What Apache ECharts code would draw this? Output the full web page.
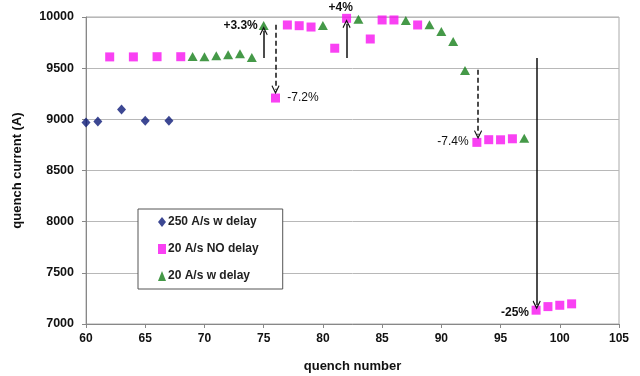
<!DOCTYPE html>
<html>
<head>
<meta charset="utf-8">
<script src="https://cdn.jsdelivr.net/npm/echarts@6/dist/echarts.min.js"></script>
<style>
  html, body { margin: 0; padding: 0; background: #fff; }
  #chart { width: 640px; height: 376px; }
</style>
</head>
<body>
<div id="chart"></div>
<script>
// 数据：[quench number, quench current]
var fast250 = [[60, 8970], [61, 8978], [63, 9095], [65, 8985], [67, 8985]];
var slowNoDelay = [[62, 9610], [64, 9610], [66, 9612], [68, 9612], [76, 9208], [77, 9922], [78, 9915], [79, 9902],
  [81, 9695], [82, 9987], [84, 9785], [85, 9971], [86, 9971], [88, 9922], [93, 8775], [94, 8801], [95, 8800],
  [96, 8810], [98, 7135], [99, 7170], [100, 7183], [101, 7197]];
var slowDelay = [[69, 9615], [70, 9612], [71, 9622], [72, 9630], [73, 9640], [74, 9605], [75, 9918], [80, 9918],
  [83, 9977], [87, 9966], [89, 9925], [90, 9858], [91, 9760], [92, 9478], [97, 8815]];

// 箭头：起点、终点、是否虚线
var arrows = [
  [[75, 9600], [75, 9865], false],
  [[76, 9925], [76, 9290], true],
  [[82, 9600], [82, 9935], false],
  [[93.1, 9485], [93.1, 8850], true],
  [[98.05, 9600], [98.05, 7185], false]
];
// 百分比标注：位置、文字、对齐、粗体、上移
var notes = [
  [[74.5, 9915], "+3.3%", "right", true, 0],
  [[77, 9210], "-7.2%", "left", false, 0],
  [[81.5, 10000], "+4%", "center", true, -9],
  [[92.3, 8780], "-7.4%", "right", false, 0],
  [[97.4, 7107], "-25%", "right", true, 0]
];

var myChart = echarts.init(document.getElementById("chart"));

var arrowHead = "path://M0,0 L5,9 L4,10 L0,3 L-4,10 L-5,9 Z";

var markLines = arrows.map(function (a) {
  return [
    { coord: a[0], symbol: "none" },
    { coord: a[1], symbol: arrowHead, symbolSize: [8, 9],
      lineStyle: { type: a[2] ? [5, 3] : "solid" } }
  ];
});
var markPoints = notes.map(function (n) {
  return {
    coord: n[0],
    symbol: "circle",
    symbolSize: 0,
    label: {
      show: true,
      formatter: n[1],
      position: "inside",
      align: n[2],
      offset: [0, n[4]],
      fontWeight: n[3] ? "bold" : "normal",
      fontSize: 12,
      color: "#111"
    }
  };
});

var font = "Liberation Sans, Arial, sans-serif";

var option = {
  animation: false,
  textStyle: { fontFamily: font },
  grid: {
    left: 86, right: 21, top: 17, bottom: 52,
    outerBoundsMode: "none",
    show: true, borderColor: "#aaa", borderWidth: 1
  },
  legend: {
    orient: "vertical",
    left: 138,
    top: 209,
    padding: [7, 24, 7, 20],
    itemGap: 15,
    itemWidth: 8,
    itemHeight: 10,
    borderColor: "#555",
    borderWidth: 1,
    backgroundColor: "#fff",
    textStyle: { fontSize: 12, fontWeight: "bold", color: "#222", fontFamily: font, padding: [0, 0, 0, -3] },
    data: ["250 A/s w delay", "20 A/s NO delay", "20 A/s w delay"]
  },
  xAxis: {
    type: "value",
    min: 60,
    max: 105,
    interval: 5,
    name: "quench number",
    nameLocation: "middle",
    nameGap: 36,
    nameTextStyle: { fontSize: 13, fontWeight: "bold", color: "#111" },
    axisLine: { lineStyle: { color: "#888" } },
    axisTick: { show: true, length: 4, lineStyle: { color: "#888" } },
    axisLabel: { fontSize: 12, fontWeight: "bold", color: "#111", margin: 9 },
    splitLine: { show: false }
  },
  yAxis: {
    type: "value",
    min: 7000,
    max: 10000,
    interval: 500,
    name: "quench current (A)",
    nameLocation: "middle",
    nameGap: 62,
    nameTextStyle: { fontSize: 13, fontWeight: "bold", color: "#111" },
    axisLine: { show: true, lineStyle: { color: "#888" } },
    axisTick: { show: true, length: 4, lineStyle: { color: "#888" } },
    axisLabel: {
      fontSize: 12.5, fontWeight: "bold", color: "#111", margin: 12,
      formatter: function (v) { return String(v); }
    },
    splitLine: { lineStyle: { color: "#b8b8b8" } }
  },
  series: [
    {
      name: "250 A/s w delay",
      type: "scatter",
      symbol: "diamond",
      symbolSize: [9, 10],
      itemStyle: { color: "#0d1a78" },
      data: fast250
    },
    {
      name: "20 A/s NO delay",
      type: "scatter",
      symbol: "rect",
      symbolSize: 9,
      itemStyle: { color: "#f812f0" },
      data: slowNoDelay
    },
    {
      name: "20 A/s w delay",
      type: "scatter",
      symbol: "triangle",
      symbolSize: [10, 9],
      itemStyle: { color: "#17801a" },
      data: slowDelay
    },
    {
      name: "notes",
      type: "scatter",
      clip: false,
      data: [],
      markLine: {
        silent: true,
        symbol: "none",
        lineStyle: { color: "#111", width: 1.5 },
        label: { show: false },
        data: markLines
      },
      markPoint: {
        silent: true,
        data: markPoints
      }
    }
  ]
};

myChart.setOption(option);
</script>
</body>
</html>
